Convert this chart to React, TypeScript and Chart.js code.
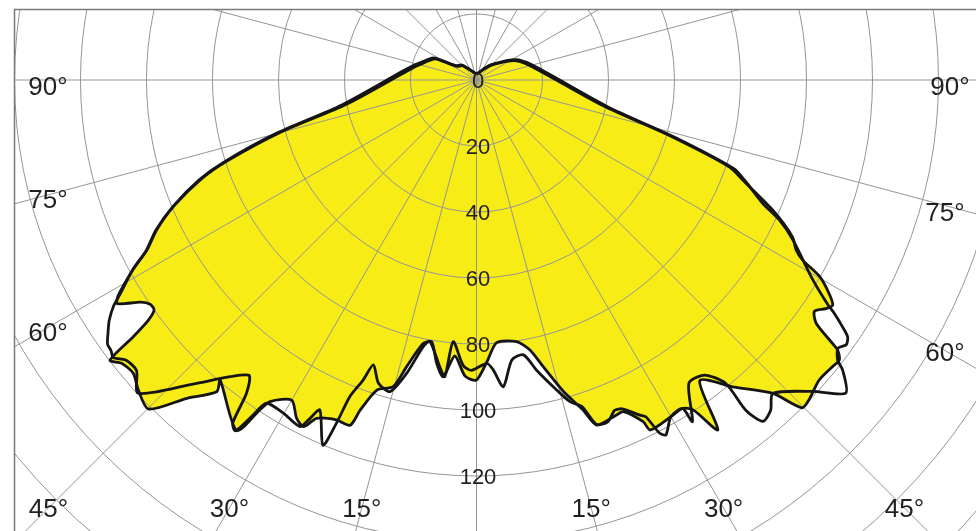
import { useEffect, useRef } from "react";
import { Chart, registerables } from "chart.js";

Chart.register(...registerables);

// Polar angle (deg, 0 = straight down, + = right side) and intensity values.
const angleA = [-180, -136, -125, -118, -115, -103.5, -97.4, -79.5, -75.1, -72, -70.2, -67.4, -64.9, -62.7, -61.1, -59, -58.1, -56.5, -55.5, -54.5, -53.8, -53.2, -52.6, -51.4, -49.5, -47.5, -44.9, -42.3, -39.8, -40.5, -34.4, -33.3, -32.7, -30, -28, -26.5, -25.3, -22.4, -20.1, -19.4, -17.8, -15.2, -13.7, -11.4, -9.7, -8, -6.4, -4.5, -2.2, 0, 2.1, 4.4, 8.7, 11.2, 13.1, 15.6, 17.9, 19.2, 22.7, 23.9, 26, 26.4, 30, 32.1, 33.3, 34.6, 36.6, 40, 43.4, 44.8, 46.1, 48.8, 51.2, 52.3, 53.2, 53.5, 54.4, 55.6, 56.8, 57.7, 58.8, 60.2, 61.1, 62, 63.6, 66.3, 69.4, 71, 73.9, 78.5, 105, 117.7, 136.6, 180];
const valueA = [1.8, 6, 7.2, 13.5, 14.8, 18.5, 21.2, 39.9, 61.3, 79.5, 88.7, 99.3, 107, 112.4, 118.9, 126.6, 128.2, 122, 120, 120, 123.2, 129.9, 139.8, 137.6, 136.8, 139, 140.8, 130.4, 123, 119.6, 128.7, 119.6, 115.8, 112, 116.1, 117.4, 113.4, 111.4, 111.4, 106, 98.7, 96.3, 89.4, 81.4, 80.5, 86.7, 90.5, 83.9, 89.8, 90.9, 85.5, 79.8, 80.2, 83.4, 89.2, 98, 105.1, 110.7, 110, 109.9, 115.2, 118.4, 117.8, 117.5, 119.6, 128.8, 113.5, 121.5, 130.7, 140, 139.8, 138, 138.5, 138.9, 136.7, 134.2, 126.6, 124.1, 126.5, 127.7, 124.9, 119.8, 112.9, 109.7, 106.9, 98, 86.2, 81.2, 61, 39.2, 16.8, 12.6, 6, 1.8];

const angleB = [-180, -136, -125, -118, -115, -103.5, -97.4, -79.5, -75.1, -72, -70.2, -67.4, -64.9, -62.7, -61.1, -59, -58.1, -56.8, -55.5, -54.4, -53.5, -52.6, -51.4, -49.5, -47.2, -43, -37.7, -36.3, -35.4, -34.5, -33.7, -33, -30.1, -27, -26.3, -25.4, -22.8, -22.2, -21.8, -20.7, -19.9, -17.9, -15.5, -13.4, -11.3, -10.1, -7.3, -6.1, -5.1, -2.7, -1, 2.1, 3.3, 5, 7.2, 9.7, 11.7, 14.5, 16.2, 17.9, 19.2, 21, 22.7, 23.9, 26, 26.7, 27.4, 28.1, 30, 32.1, 32.3, 35, 37.7, 39.4, 39.2, 40, 41.7, 43.4, 47.2, 49.7, 51.6, 52.2, 53.4, 54.4, 55.3, 56, 56.9, 57.4, 59.3, 63.2, 65.2, 66.7, 69.4, 71, 73.9, 78.5, 105, 117.7, 136.6, 180];
const valueB = [1.8, 6.3, 7.6, 14, 15.4, 19.3, 22.2, 41.5, 62.6, 80.5, 89.3, 99.6, 107.3, 112.6, 119, 126, 129.5, 133, 135.5, 137.5, 137.8, 138.5, 136, 135.5, 139.7, 126, 113, 117.7, 127.5, 129, 122, 116.8, 116.7, 117.9, 114.9, 110.7, 120.1, 112.3, 103.3, 97.2, 91.8, 96.6, 98, 91.4, 82.4, 80.5, 87.6, 90.4, 79.6, 86.5, 88, 85.9, 88, 93.3, 85.5, 84.5, 89.8, 97, 101.5, 104, 110.5, 111, 108.5, 109, 113, 114.2, 120.5, 121.9, 117.8, 117.5, 122.5, 112.2, 113, 119, 129.1, 135, 134, 130.7, 138.9, 146.7, 141.6, 138.5, 136.4, 137.8, 136.8, 133.8, 129.4, 126.4, 118.5, 107.4, 101.1, 94.4, 87, 82.5, 62.5, 40.5, 17.5, 13.2, 6.3, 1.8];

const ringValues = [0, 20, 40, 60, 80, 100, 120];
const gridRings = [20, 40, 60, 80, 100, 120, 140, 160, 180, 200];
const angleTickLabels = [15, 30, 45, 60, 75, 90];

const CENTER_X = 476.5;
const CENTER_Y = 80;
const PX_PER_UNIT = 3.3;
const W = 976;
const H = 531;
const FRAME_L = 14.5;
const FRAME_T = 9.5;
const FONT = '"Liberation Sans", Arial, Helvetica, sans-serif';
const TEXT_COLOR = "#231f20";
const YELLOW = "rgb(247,236,22)";
const GRID = "#959595";

function toPoints(angles: number[], values: number[]) {
  return angles.map((a, i) => {
    const t = (a * Math.PI) / 180;
    return { x: values[i] * Math.sin(t), y: -values[i] * Math.cos(t) };
  });
}

function centerPx(chart: any) {
  const xs = chart.scales.x;
  const ys = chart.scales.y;
  const cx = xs.getPixelForValue(0);
  const cy = ys.getPixelForValue(0);
  const unit = xs.getPixelForValue(1) - cx;
  return { cx, cy, unit };
}

const polarGrid = {
  id: "polarGrid",
  afterDatasetDraw(chart: any, args: any) {
    if (args.index !== 0) return;
    const ctx = chart.ctx;
    const { cx, cy, unit } = centerPx(chart);
    ctx.save();
    ctx.beginPath();
    ctx.rect(FRAME_L, FRAME_T, W, H);
    ctx.clip();
    ctx.strokeStyle = GRID;
    ctx.lineWidth = 1;
    for (const r of gridRings) {
      ctx.beginPath();
      ctx.arc(cx, cy, r * unit, 0, Math.PI * 2);
      ctx.stroke();
    }
    for (let a = 0; a < 360; a += 15) {
      const t = (a * Math.PI) / 180;
      ctx.beginPath();
      ctx.moveTo(cx, cy);
      ctx.lineTo(cx + Math.sin(t) * 400 * unit, cy + Math.cos(t) * 400 * unit);
      ctx.stroke();
    }
    ctx.restore();
  },
  afterDatasetsDraw(chart: any) {
    const ctx = chart.ctx;
    const { cx, cy, unit } = centerPx(chart);
    ctx.save();
    // frame
    ctx.strokeStyle = "#7a7a7a";
    ctx.lineWidth = 1.5;
    ctx.beginPath();
    ctx.moveTo(FRAME_L, H);
    ctx.lineTo(FRAME_L, FRAME_T);
    ctx.lineTo(W, FRAME_T);
    ctx.stroke();
    // ring labels
    ctx.fillStyle = TEXT_COLOR;
    ctx.textAlign = "center";
    ctx.textBaseline = "alphabetic";
    ctx.font = `22px ${FONT}`;
    for (const r of ringValues) {
      ctx.fillText(String(r), cx + 1.5, cy + r * unit + 7.8);
    }
    // angle labels, placed where each ray leaves the label band
    ctx.font = `26px ${FONT}`;
    const leftX = 48;
    const rightX = 945;
    const bottomY = 508;
    for (const a of angleTickLabels) {
      const t = (a * Math.PI) / 180;
      for (const s of [-1, 1]) {
        const dx = s * Math.sin(t);
        const dy = Math.cos(t);
        const sideDist = s < 0 ? (cx - leftX) / Math.sin(t) : (rightX - cx) / Math.sin(t);
        const botDist = dy > 1e-6 ? (bottomY - cy) / dy : Infinity;
        let px: number;
        let py: number;
        if (botDist <= sideDist) {
          px = cx + dx * botDist;
          py = bottomY;
        } else {
          const shift = s > 0 && a === 90 ? 5 : 0;
          const lift = s > 0 && a === 60 ? 1 : s < 0 && a !== 90 ? 4 : 6;
          px = cx + dx * sideDist + shift;
          py = cy + dy * sideDist + lift;
        }
        ctx.fillText(`${a}°`, px, py + 9.3);
      }
    }
    ctx.restore();
  },
};

export default function App() {
  const ref = useRef<HTMLCanvasElement | null>(null);
  useEffect(() => {
    if (!ref.current) return;
    const pointsA = toPoints(angleA, valueA);
    const pointsB = toPoints(angleB, valueB);
    const chart = new Chart(ref.current, {
      type: "scatter",
      data: {
        datasets: [
          {
            data: pointsA,
            showLine: true,
            fill: "shape",
            backgroundColor: YELLOW,
            borderWidth: 0,
            borderColor: "rgba(0,0,0,0)",
            pointRadius: 0,
            tension: 0.25,
            order: 2,
          },
          {
            data: pointsA,
            showLine: true,
            fill: false,
            borderColor: "#151515",
            borderWidth: 2.8,
            pointRadius: 0,
            tension: 0.25,
            order: 1,
          },
          {
            data: pointsB,
            showLine: true,
            fill: false,
            borderColor: "#151515",
            borderWidth: 2.8,
            pointRadius: 0,
            tension: 0.25,
            order: 0,
          },
        ],
      },
      options: {
        responsive: false,
        animation: false,
        events: [],
        layout: { padding: 0 },
        plugins: { legend: { display: false }, tooltip: { enabled: false } },
        scales: {
          x: {
            type: "linear",
            display: false,
            bounds: "data",
            min: -CENTER_X / PX_PER_UNIT,
            max: (W - CENTER_X) / PX_PER_UNIT,
          },
          y: {
            type: "linear",
            display: false,
            bounds: "data",
            min: -(H - CENTER_Y) / PX_PER_UNIT,
            max: CENTER_Y / PX_PER_UNIT,
          },
        },
      },
      plugins: [polarGrid],
    });
    return () => chart.destroy();
  }, []);
  return (
    <div style={{ position: "fixed", left: 0, top: 0, width: W, height: H, background: "#fff", overflow: "hidden" }}>
      <canvas ref={ref} width={W} height={H} style={{ display: "block" }} />
    </div>
  );
}
